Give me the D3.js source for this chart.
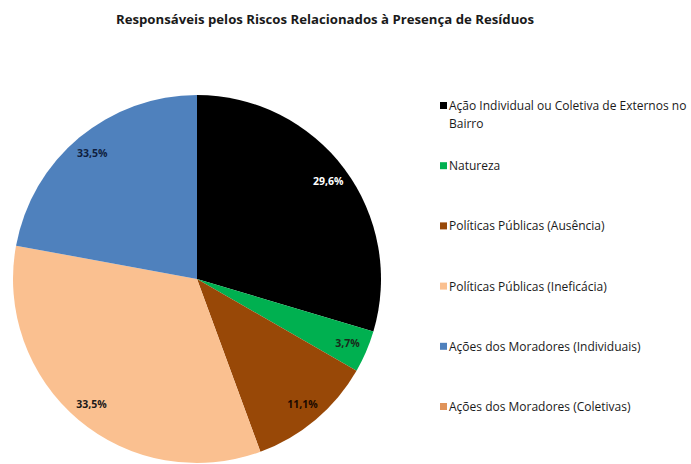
<!DOCTYPE html>
<html>
<head>
<meta charset="utf-8">
<script src="https://cdn.jsdelivr.net/npm/d3@7"></script>
<style>
  body { margin: 0; background: #fff; }
  svg text { font-family: "Open Sans", "Liberation Sans", sans-serif; }
</style>
</head>
<body>
<svg id="chart" width="691" height="464"></svg>
<script>
// categories, in slice order (clockwise from 12 o'clock)
var categories = [
  "Ação Individual ou Coletiva de Externos no Bairro",
  "Natureza",
  "Políticas Públicas (Ausência)",
  "Políticas Públicas (Ineficácia)",
  "Ações dos Moradores (Individuais)",
  "Ações dos Moradores (Coletivas)"
];
// slice sizes as drawn
var values = [29.6, 3.7, 11.1, 33.5, 22.1, 0];
// labels as printed on the slices
var valueLabels = ["29,6%", "3,7%", "11,1%", "33,5%", "33,5%", ""];
var colors = ["#000000", "#00B050", "#984807", "#FAC090", "#4F81BD", "#E0935A"];
var labelColors = ["#ffffff", "#1a2a1a", "#1a0a00", "#1a1a1a", "#0f1f3f", "#000"];

var svg = d3.select("#chart");

svg.append("text")
    .attr("x", 325)
    .attr("y", 24)
    .attr("text-anchor", "middle")
    .attr("font-size", 13.2)
    .attr("font-weight", "bold")
    .attr("fill", "#1a1a1a")
    .text("Responsáveis pelos Riscos Relacionados à Presença de Resíduos");

var R = 184;
var g = svg.append("g").attr("transform", "translate(197,279)");

var pie = d3.pie().sort(null).value(function(d) { return d; });
var arc = d3.arc().innerRadius(0).outerRadius(R);
var labelArc = d3.arc().innerRadius(R * 0.89).outerRadius(R * 0.89);

var arcs = pie(values);

g.selectAll("path")
  .data(arcs)
  .enter().append("path")
  .attr("d", arc)
  .attr("fill", function(d, i) { return colors[i]; });

g.selectAll("text.lbl")
  .data(arcs)
  .enter().append("text")
  .attr("class", "lbl")
  .attr("transform", function(d) { return "translate(" + labelArc.centroid(d) + ")"; })
  .attr("text-anchor", "middle")
  .attr("dy", "0.35em")
  .attr("font-size", 10.5)
  .attr("font-weight", "bold")
  .attr("fill", function(d, i) { return labelColors[i]; })
  .text(function(d, i) { return valueLabels[i]; });

// legend
var legendY = d3.scalePoint()
    .domain(categories)
    .range([106, 407]);

var leg = svg.append("g").selectAll("g")
  .data(categories)
  .enter().append("g")
  .attr("transform", function(d) { return "translate(440," + legendY(d) + ")"; });

leg.append("rect")
  .attr("x", 0)
  .attr("y", -4)
  .attr("width", 7)
  .attr("height", 7)
  .attr("fill", function(d, i) { return colors[i]; });

leg.append("text")
  .attr("x", 9)
  .attr("y", 4)
  .attr("font-size", 12)
  .attr("fill", "#1a1a1a")
  .each(function(d) {
    var t = d3.select(this);
    if (d.length > 40) {
      var cut = d.lastIndexOf(" ");
      t.append("tspan").attr("x", 9).text(d.slice(0, cut));
      t.append("tspan").attr("x", 9).attr("dy", 18).text(d.slice(cut + 1));
    } else {
      t.text(d);
    }
  });
</script>
</body>
</html>
